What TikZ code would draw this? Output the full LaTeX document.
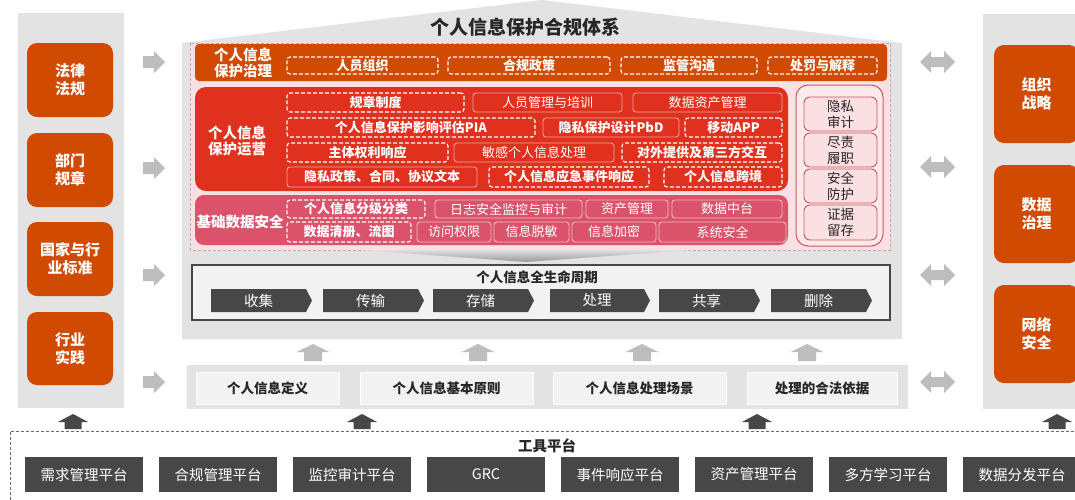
\documentclass[tikz,border=0pt]{standalone}
\usepackage{fontspec}
\setmainfont{Noto Sans CJK SC}
\definecolor{pwcorange}{HTML}{D04A02}
\definecolor{pwcred}{HTML}{E0301E}
\definecolor{pwcrose}{HTML}{DB536A}
\definecolor{pinkbg}{HTML}{FADFE3}
\definecolor{pinkline}{HTML}{C9575F}
\definecolor{panelgray}{HTML}{E3E3E3}
\definecolor{dkgray}{HTML}{474747}
\definecolor{arrgray}{HTML}{BDBDBD}
\definecolor{softbox}{HTML}{F2F2F2}
\definecolor{txtdark}{HTML}{262626}
\newcommand\bx[7]{\node[#1, minimum width={(#5-#3)*1pt}, minimum height={(#6-#4)*1pt}] (#2) at ({(#3+#5)/2},{(#4+#6)/2}) {#7};}
\newcommand\rarr[2]{\fill[arrgray] (#1,#2) ++(0,-6) -- ++(11,0) -- ++(0,-5) -- ++(11,11) -- ++(-11,11) -- ++(0,-5) -- ++(-11,0) -- cycle;}
\newcommand\darr[2]{\fill[arrgray] (#1,#2) -- ++(11,-11) -- ++(0,6) -- ++(13,0) -- ++(0,-6) -- ++(11,11) -- ++(-11,11) -- ++(0,-6) -- ++(-13,0) -- ++(0,6) -- cycle;}
\newcommand\uarr[1]{\fill[arrgray] (#1,361) ++(-9,0) -- ++(0,-9) -- ++(-7.5,0) -- ++(16.5,-8) -- ++(16.5,8) -- ++(-7.5,0) -- ++(0,9) -- cycle;}
\newcommand\duarr[1]{\fill[dkgray] (#1,429) ++(-8.5,0) -- ++(0,-7) -- ++(-6.5,0) -- ++(15,-8) -- ++(15,8) -- ++(-6.5,0) -- ++(0,7) -- cycle;}
\newcommand\chev[4]{\fill[dkgray] (#2,289) -- ({#3-6},289) -- (#3,300.5) -- ({#3-6},312) -- (#2,312) -- cycle;
  \node[chevtext] (#1) at ({(#2+#3-6)/2},300.5) {#4};}
\tikzset{
  base/.style={inner sep=0pt, outer sep=0pt, align=center},
  panel/.style={base, fill=panelgray},
  obox/.style={base, fill=pwcorange, rounded corners=10pt, text=white, font=\fontsize{15}{18}\selectfont\bfseries},
  dbox/.style={base, draw=white, line width=1.1pt, dash pattern=on 4pt off 2pt, rounded corners=3pt, text=white, font=\fontsize{13}{15}\selectfont\bfseries},
  sbox/.style={base, draw=white!55!pwcred, line width=0.9pt, rounded corners=3pt, text=white, font=\fontsize{13}{15}\selectfont},
  sboxb/.style={sbox, font=\fontsize{13}{15}\selectfont\bfseries},
  rbox/.style={base, draw=white!60!pwcrose, line width=0.9pt, rounded corners=3pt, text=white, font=\fontsize{13}{15}\selectfont},
  pbox/.style={base, draw=pinkline, line width=0.9pt, fill=pinkbg, rounded corners=6pt, text=txtdark, font=\fontsize{13.5}{16}\selectfont},
  lbl/.style={base, text=white, font=\fontsize{14.5}{16.5}\selectfont\bfseries},
  chevtext/.style={base, text=white, font=\fontsize{14.5}{16}\selectfont},
  defbox/.style={base, fill=softbox, draw=white, line width=1pt, text=txtdark, font=\fontsize{13.5}{16}\selectfont\bfseries},
  toolbox/.style={base, fill=dkgray, text=white, font=\fontsize{14.5}{16}\selectfont},
}
\begin{document}
\begin{tikzpicture}[x=1pt,y=-1pt]
\useasboundingbox (0,0) rectangle (1075,499);
\fill[white] (0,0) rectangle (1075,499);
% side panels
\bx{panel}{leftpanel}{18}{13}{124}{408}{}
\bx{panel}{rightpanel}{983}{14}{1085}{409}{}
% main panel with roof
\fill[panelgray] (182,339) -- (182,43) -- (542,0) -- (902,43) -- (902,339) -- cycle;
\node[base, text=txtdark, font=\fontsize{19}{21}\selectfont\bfseries] (title) at (525,27) {个人信息保护合规体系};
% pink region
\draw[draw=pinkline!45!gray!60, dash pattern=on 3pt off 2pt, fill=pinkbg, line width=0.6pt] (190,43) rectangle (890,250);
% left boxes
\bx{obox}{l1}{27}{43}{113}{117}{法律\\法规}
\bx{obox}{l2}{27}{133}{113}{207}{部门\\规章}
\bx{obox}{l3}{27}{222}{113}{296}{国家与行\\业标准}
\bx{obox}{l4}{27}{312}{113}{385}{行业\\实践}
% right boxes
\bx{obox}{r1}{994}{45}{1079}{143}{组织\\战略}
\bx{obox}{r2}{994}{165}{1079}{263}{数据\\治理}
\bx{obox}{r3}{994}{285}{1079}{383}{网络\\安全}
% arrows
\rarr{143}{62}\rarr{143}{168}\rarr{143}{275}\rarr{143}{382}
\darr{920}{62}\darr{920}{167}\darr{920}{275}\darr{920}{382}
% governance bar
\bx{base, fill=pwcorange, rounded corners=4pt}{gov}{195}{44}{887}{81}{}
\node[lbl] (govlbl) at (243,63) {个人信息\\保护治理};
\bx{dbox}{g1}{287}{57}{438}{74}{人员组织}
\bx{dbox}{g2}{448}{57}{610}{74}{合规政策}
\bx{dbox}{g3}{621}{57}{757}{74}{监管沟通}
\bx{dbox}{g4}{768}{57}{877}{74}{处罚与解释}
% operations
\bx{base, fill=pwcred, rounded corners=11pt}{ops}{195}{87}{788}{191}{}
\node[lbl, font=\fontsize{14.5}{15.5}\selectfont\bfseries] (opslbl) at (237,141) {个人信息\\保护运营};
\bx{dbox}{o11}{287}{93}{464}{112}{规章制度}
\bx{sbox}{o12}{473}{93}{622}{112}{人员管理与培训}
\bx{sbox}{o13}{633}{93}{782}{112}{数据资产管理}
\bx{dbox}{o21}{287}{118}{535}{137}{个人信息保护影响评估PIA}
\bx{sboxb}{o22}{543}{118}{679}{137}{隐私保护设计PbD}
\bx{dbox}{o23}{685}{118}{782}{137}{移动APP}
\bx{dbox}{o31}{287}{143}{448}{162}{主体权利响应}
\bx{sbox}{o32}{454}{143}{614}{162}{敏感个人信息处理}
\bx{dbox}{o33}{622}{143}{782}{162}{对外提供及第三方交互}
\bx{sboxb}{o41}{287}{167}{477}{187}{隐私政策、合同、协议文本}
\bx{dbox}{o42}{489}{167}{649}{187}{个人信息应急事件响应}
\bx{dbox}{o43}{664}{167}{782}{187}{个人信息跨境}
% foundation
\bx{base, fill=pwcrose, rounded corners=9pt}{fnd}{195}{195}{788}{245}{}
\node[lbl] (fndlbl) at (240,222) {基础数据安全};
\bx{dbox}{f11}{287}{200}{425}{218}{个人信息分级分类}
\bx{rbox}{f12}{435}{200}{582}{218}{日志安全监控与审计}
\bx{rbox}{f13}{586}{200}{668}{218}{资产管理}
\bx{rbox}{f14}{672}{200}{782}{218}{数据中台}
\bx{dbox}{f21}{287}{222}{411}{242}{数据清册、流图}
\bx{rbox}{f22}{417}{222}{491}{242}{访问权限}
\bx{rbox}{f23}{494}{222}{569}{242}{信息脱敏}
\bx{rbox}{f24}{572}{222}{656}{242}{信息加密}
\bx{rbox}{f25}{659}{222}{786}{242}{系统安全}
% right audit column
\bx{base, draw=pinkline, line width=1pt, fill=pinkbg!70!white, rounded corners=12pt}{aud}{796}{85}{883}{246}{}
\bx{pbox}{a1}{804}{97}{877}{131}{隐私\\审计}
\bx{pbox}{a2}{804}{133}{877}{167}{尽责\\履职}
\bx{pbox}{a3}{804}{169}{877}{203}{安全\\防护}
\bx{pbox}{a4}{804}{205}{877}{240}{证据\\留存}
% funnel
\shade[top color=gray!25, bottom color=gray!80] (360,250) -- (692,250) -- (526,262) -- cycle;
% lifecycle
\bx{base, fill=softbox, draw=dkgray, line width=1.5pt}{life}{192}{265}{890}{320}{}
\node[base, text=txtdark, font=\fontsize{13.5}{15}\selectfont\bfseries] (lifetitle) at (537,277) {个人信息全生命周期};
\chev{s1}{211}{312}{收集}
\chev{s2}{323}{424}{传输}
\chev{s3}{433}{534}{存储}
\chev{s4}{550}{650}{处理}
\chev{s5}{659}{760}{共享}
\chev{s6}{771}{872}{删除}
% up arrows
\uarr{313}\uarr{478}\uarr{642}\uarr{807}
% definitions
\bx{panel}{defpanel}{187}{365}{908}{409}{}
\bx{defbox}{d1}{196}{372}{339}{404}{个人信息定义}
\bx{defbox}{d2}{360}{372}{533}{404}{个人信息基本原则}
\bx{defbox}{d3}{553}{372}{726}{404}{个人信息处理场景}
\bx{defbox}{d4}{747}{372}{897}{404}{处理的合法依据}
% dark up arrows
\duarr{73}\duarr{362}\duarr{757}\duarr{1057}
% tool platform
\draw[dkgray!80, dash pattern=on 3pt off 2pt, line width=0.8pt] (10,505) -- (10,431) -- (1085,431);
\node[base, text=txtdark, font=\fontsize{14.5}{16}\selectfont\bfseries] (tooltitle) at (547,446) {工具平台};
\bx{toolbox}{t1}{25}{457}{143}{492}{需求管理平台}
\bx{toolbox}{t2}{159}{457}{277}{492}{合规管理平台}
\bx{toolbox}{t3}{293}{457}{411}{492}{监控审计平台}
\bx{toolbox}{t4}{427}{457}{545}{492}{GRC}
\bx{toolbox}{t5}{561}{457}{679}{492}{事件响应平台}
\bx{toolbox}{t6}{695}{457}{813}{492}{资产管理平台}
\bx{toolbox}{t7}{829}{457}{947}{492}{多方学习平台}
\bx{toolbox}{t8}{963}{457}{1081}{492}{数据分发平台}
\end{tikzpicture}
\end{document}
